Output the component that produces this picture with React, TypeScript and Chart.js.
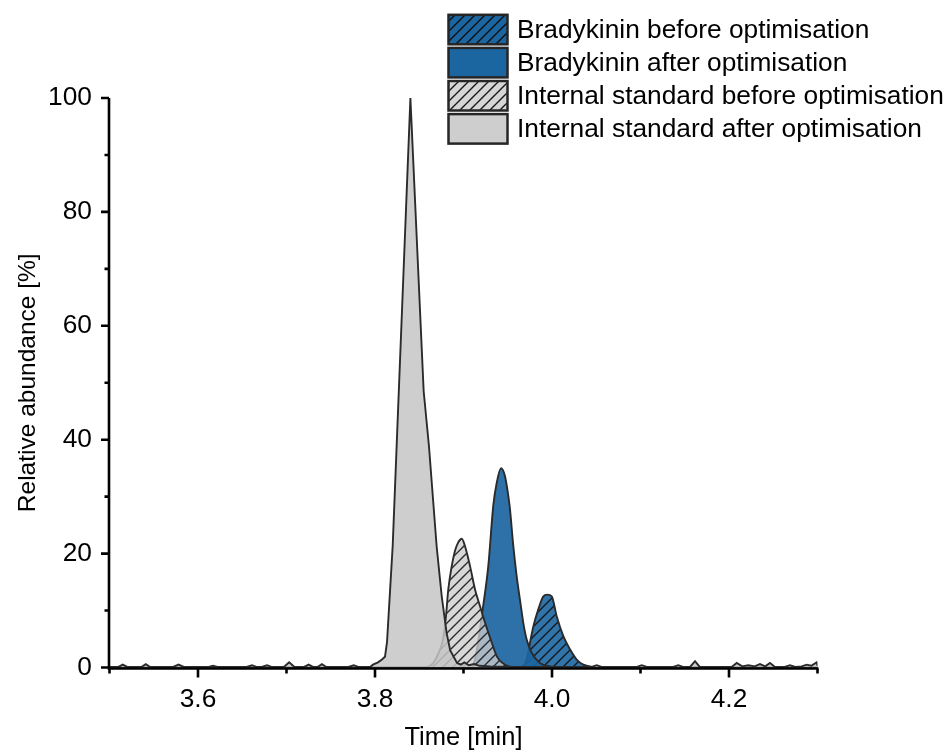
import React, { useEffect, useRef } from 'react';
import { Chart, registerables } from 'chart.js';

Chart.register(...registerables);

// ---------- data ----------
const isAfterTime = [
  3.500, 3.510, 3.515, 3.520, 3.536, 3.541, 3.546, 3.572, 3.578, 3.584,
  3.612, 3.617, 3.622, 3.655, 3.661, 3.666, 3.672, 3.678, 3.683, 3.697,
  3.703, 3.709, 3.720, 3.725, 3.730, 3.735, 3.740, 3.745, 3.770, 3.776,
  3.781, 3.7944, 3.7977, 3.8034, 3.8079, 3.8113, 3.8136, 3.820, 3.840, 3.855,
  3.861, 3.8697, 3.8754, 3.881, 3.885, 3.8927, 3.897, 3.901, 3.906, 3.912,
  3.918, 3.930, 3.960, 4.045, 4.0505, 4.056, 4.096, 4.1014, 4.107, 4.137,
  4.1427, 4.148, 4.156, 4.1616, 4.167, 4.203, 4.2087, 4.215, 4.2218, 4.229,
  4.235, 4.241, 4.2463, 4.252, 4.263, 4.2689, 4.275, 4.282, 4.2878, 4.293,
  4.2991, 4.300,
];
const isAfterAbund = [
  0.1, 0.1, 0.5, 0.1, 0.1, 0.6, 0.1, 0.1, 0.5, 0.1,
  0.1, 0.3, 0.1, 0.1, 0.4, 0.1, 0.1, 0.4, 0.1, 0.1,
  0.9, 0.1, 0.1, 0.5, 0.1, 0.1, 0.6, 0.1, 0.1, 0.4,
  0.1, 0.1, 0.5, 0.9, 1.4, 1.9, 4.5, 21.4, 100, 48.5,
  38.8, 21.2, 12.5, 6.0, 3.0, 0.8, 0.5, 0.9, 0.4, 0.6,
  0.3, 0.2, 0.1, 0.1, 0.4, 0.1, 0.1, 0.4, 0.1, 0.1,
  0.4, 0.1, 0.1, 1.1, 0.1, 0.1, 0.8, 0.2, 0.4, 0.2,
  0.6, 0.2, 0.8, 0.1, 0.1, 0.4, 0.1, 0.2, 0.5, 0.3,
  0.9, 0.3,
];

const isBeforeTime = [
  3.500, 3.855, 3.862, 3.866, 3.8712, 3.8768, 3.8802, 3.8828, 3.8867, 3.8904,
  3.8935, 3.898, 3.9017, 3.9074, 3.913, 3.9186, 3.9243, 3.9319, 3.9375, 3.9432,
  3.9525, 3.960, 4.300,
];
const isBeforeAbund = [
  0, 0, 0.3, 0.8, 2.3, 4.9, 9.0, 13.7, 17.8, 20.5,
  21.8, 22.6, 21.3, 17.8, 13.7, 10.8, 7.9, 4.4, 2.0, 0.9,
  0.1, 0, 0,
];

const brAfterTime = [
  3.500, 3.905, 3.911, 3.914, 3.917, 3.9217, 3.928, 3.9337, 3.9375, 3.9424,
  3.9469, 3.9503, 3.9524, 3.9563, 3.9601, 3.9638, 3.9676, 3.9714, 3.977, 3.9864,
  3.9977, 4.010, 4.300,
];
const brAfterAbund = [
  0, 0, 0.5, 2.2, 5.0, 10.2, 17.8, 28.5, 32.4, 35.0,
  33.6, 30.5, 28.0, 21.3, 16.0, 11.9, 7.8, 4.9, 2.6, 0.8,
  0.2, 0, 0,
];

const brBeforeTime = [
  3.500, 3.960, 3.9676, 3.9732, 3.9751, 3.9789, 3.9845, 3.9902, 3.9947, 3.9997,
  4.0053, 4.0128, 4.0203, 4.0279, 4.0354, 4.0463, 4.055, 4.300,
];
const brBeforeAbund = [
  0, 0, 0.3, 2.6, 4.3, 7.2, 10.2, 12.5, 12.8, 12.5,
  9.0, 5.5, 3.2, 1.4, 0.5, 0.1, 0, 0,
];

const legendLabels = [
  'Bradykinin before optimisation',
  'Bradykinin after optimisation',
  'Internal standard before optimisation',
  'Internal standard after optimisation',
];

const xMajorTicks = [3.6, 3.8, 4.0, 4.2];
const xMinorTicks = [3.5, 3.7, 3.9, 4.1, 4.3];
const yMajorTicks = [0, 20, 40, 60, 80, 100];
const yMinorTicks = [10, 30, 50, 70, 90];

const xTitle = 'Time [min]';
const yTitle = 'Relative abundance [%]';

// ---------- styles ----------
const FONT = '"Liberation Sans", Arial, Helvetica, sans-serif';
const BLUE = 'rgba(27,101,161,0.92)';
const BLUE_LEG = 'rgb(27,101,161)';
const GRAY_AFTER = 'rgba(198,198,198,0.85)';
const GRAY_LEG = 'rgb(206,206,206)';
const OUTLINE = '#2b2b2b';

function makeHatch(ctx: CanvasRenderingContext2D, bg: string, line: string) {
  const s = 10;
  const c = document.createElement('canvas');
  c.width = s;
  c.height = s;
  const g = c.getContext('2d')!;
  g.fillStyle = bg;
  g.fillRect(0, 0, s, s);
  g.strokeStyle = line;
  g.lineWidth = 1.4;
  g.beginPath();
  g.moveTo(-1, s + 1);
  g.lineTo(s + 1, -1);
  g.moveTo(-1, 1);
  g.lineTo(1, -1);
  g.moveTo(s - 1, s + 1);
  g.lineTo(s + 1, s - 1);
  g.stroke();
  return ctx.createPattern(c, 'repeat')!;
}

export default function App() {
  const ref = useRef<HTMLCanvasElement | null>(null);

  useEffect(() => {
    document.body.style.margin = '0';
    document.body.style.overflow = 'hidden';
    const canvas = ref.current!;
    const ctx0 = canvas.getContext('2d')!;
    const hatchBlue = makeHatch(ctx0, 'rgba(27,101,161,0.9)', 'rgba(15,15,15,0.9)');
    const hatchGray = makeHatch(ctx0, 'rgba(205,205,205,0.78)', 'rgba(25,25,25,0.9)');
    const hatchBlueLeg = makeHatch(ctx0, 'rgb(27,101,161)', 'rgb(15,15,15)');
    const hatchGrayLeg = makeHatch(ctx0, 'rgb(214,214,214)', 'rgb(25,25,25)');

    const pts = (xs: number[], ys: number[]) => xs.map((x, i) => ({ x, y: ys[i] }));

    const axesPlugin = {
      id: 'originAxes',
      afterDatasetsDraw(chart: any) {
        const { ctx, chartArea: a, scales } = chart;
        const xs = scales.x;
        const ys = scales.y;
        const ax = a.left - 0.5;
        const ay = a.bottom + 1;
        ctx.save();
        ctx.strokeStyle = '#000';
        ctx.lineWidth = 2.6;
        ctx.lineCap = 'butt';
        ctx.beginPath();
        ctx.moveTo(ax, a.top);
        ctx.lineTo(ax, ay + 1.3);
        ctx.moveTo(ax - 1.3, ay);
        ctx.lineTo(a.right + 1, ay);
        ctx.stroke();
        ctx.beginPath();
        xMajorTicks.forEach((v) => {
          const p = xs.getPixelForValue(v);
          ctx.moveTo(p, ay);
          ctx.lineTo(p, ay + 9);
        });
        xMinorTicks.forEach((v) => {
          const p = xs.getPixelForValue(v);
          ctx.moveTo(p, ay);
          ctx.lineTo(p, ay + 5);
        });
        yMajorTicks.forEach((v) => {
          const p = ys.getPixelForValue(v);
          ctx.moveTo(ax, p);
          ctx.lineTo(ax - 8, p);
        });
        yMinorTicks.forEach((v) => {
          const p = ys.getPixelForValue(v);
          ctx.moveTo(ax, p);
          ctx.lineTo(ax - 4.5, p);
        });
        ctx.stroke();
        ctx.restore();
      },
    };

    const legendFills = [hatchBlueLeg, BLUE_LEG, hatchGrayLeg, GRAY_LEG];
    const legendPlugin = {
      id: 'boxLegend',
      afterDraw(chart: any) {
        const { ctx } = chart;
        ctx.save();
        const bx = 448.5;
        const bw = 59;
        const bh = 29.5;
        const top0 = 14.8;
        const pitch = 33.1;
        legendLabels.forEach((label, i) => {
          const by = top0 + i * pitch;
          ctx.fillStyle = legendFills[i];
          ctx.fillRect(bx, by, bw, bh);
          ctx.strokeStyle = '#262626';
          ctx.lineWidth = 2.5;
          ctx.strokeRect(bx, by, bw, bh);
          ctx.fillStyle = '#000';
          ctx.font = `26.3px ${FONT}`;
          ctx.textAlign = 'left';
          ctx.textBaseline = 'middle';
          ctx.fillText(label, 517, by + bh / 2 + 1);
        });
        ctx.restore();
      },
    };

    const chart = new Chart(canvas, {
      type: 'line',
      data: {
        datasets: [
          {
            label: legendLabels[0],
            data: pts(brBeforeTime, brBeforeAbund),
            borderColor: OUTLINE,
            borderWidth: 1.9,
            backgroundColor: hatchBlue,
            fill: 'origin',
            pointRadius: 0,
            cubicInterpolationMode: 'monotone',
            order: 3,
          },
          {
            label: legendLabels[1],
            data: pts(brAfterTime, brAfterAbund),
            borderColor: OUTLINE,
            borderWidth: 1.9,
            backgroundColor: BLUE,
            fill: 'origin',
            pointRadius: 0,
            cubicInterpolationMode: 'monotone',
            order: 2,
          },
          {
            label: legendLabels[2],
            data: pts(isBeforeTime, isBeforeAbund),
            borderColor: OUTLINE,
            borderWidth: 1.9,
            backgroundColor: hatchGray,
            fill: 'origin',
            pointRadius: 0,
            cubicInterpolationMode: 'monotone',
            order: 1,
          },
          {
            label: legendLabels[3],
            data: pts(isAfterTime, isAfterAbund),
            borderColor: OUTLINE,
            borderWidth: 1.9,
            backgroundColor: GRAY_AFTER,
            fill: 'origin',
            pointRadius: 0,
            tension: 0,
            order: 0,
          },
        ] as any,
      },
      options: {
        responsive: true,
        maintainAspectRatio: false,
        animation: false,
        events: [],
        layout: { padding: { top: 98, right: 134.5, bottom: 0, left: 0 } },
        plugins: {
          legend: { display: false },
          tooltip: { enabled: false },
        },
        scales: {
          x: {
            type: 'linear',
            min: 3.5,
            max: 4.3,
            grid: { display: false, drawTicks: false },
            border: { display: false },
            afterBuildTicks: (s: any) => {
              s.ticks = xMajorTicks.map((v) => ({ value: v }));
            },
            afterFit: (s: any) => {
              s.height = 83.5;
            },
            ticks: {
              autoSkip: false,
              maxRotation: 0,
              minRotation: 0,
              padding: 16.6,
              color: '#000',
              font: { family: FONT, size: 26.3, lineHeight: 1.2 },
              callback: (v: any) => Number(v).toFixed(1),
            },
            title: {
              display: true,
              text: xTitle,
              color: '#000',
              font: { family: FONT, size: 25.5, lineHeight: 1 },
              padding: { top: 0, bottom: 0 },
            },
          },
          y: {
            type: 'linear',
            min: 0,
            max: 100,
            grid: { display: false, drawTicks: false },
            border: { display: false },
            afterBuildTicks: (s: any) => {
              s.ticks = yMajorTicks.map((v) => ({ value: v }));
            },
            afterFit: (s: any) => {
              s.width = 109.5;
            },
            ticks: {
              autoSkip: false,
              padding: 17.5,
              color: '#000',
              font: { family: FONT, size: 26.3, lineHeight: 1.2 },
              callback: (v: any) => String(v),
            },
            title: {
              display: true,
              text: yTitle,
              color: '#000',
              font: { family: FONT, size: 24.5, lineHeight: 1 },
              padding: { top: 16, bottom: 0 },
            },
          },
        },
      } as any,
      plugins: [axesPlugin, legendPlugin],
    });

    return () => {
      chart.destroy();
    };
  }, []);

  return (
    <div style={{ position: 'relative', width: '952px', height: '751px', background: '#fff' }}>
      <canvas ref={ref} />
    </div>
  );
}
